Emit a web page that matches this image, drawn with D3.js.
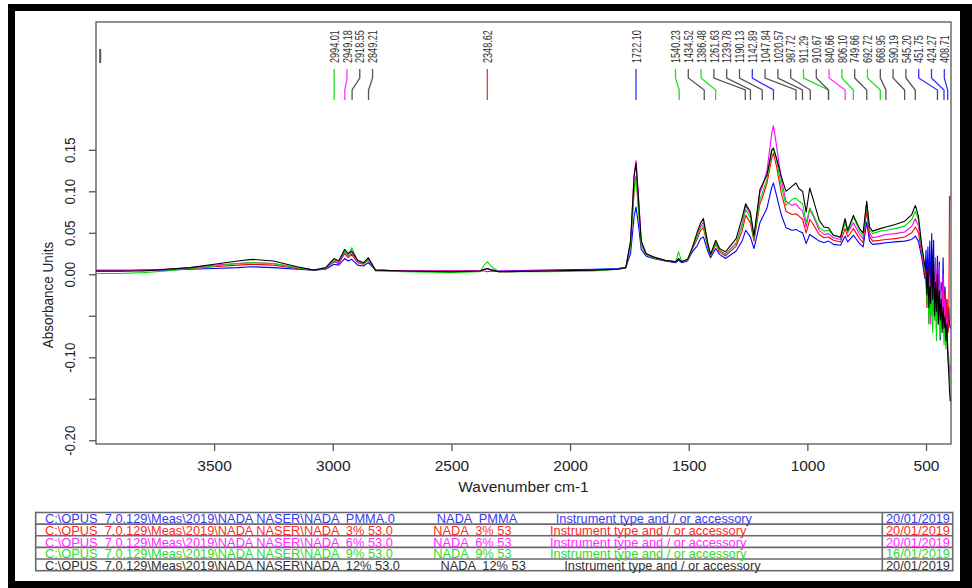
<!DOCTYPE html>
<html><head><meta charset="utf-8">
<script src="https://cdn.jsdelivr.net/npm/d3@7"></script>
<style>
body{margin:0;background:#fff}
svg{display:block}
text{font-family:"Liberation Sans",Arial,sans-serif}
</style>
</head><body>
<svg id="chart" width="972" height="588"></svg>
<script>
// ---------------- DATA ----------------
const wavenumbers = [
 3997,3900,3800,3700,3600,3500,3400,3340,3250,3150,3080,3030,2995,2975,2950,2935,2920,2895,2870,2850,
 2820,2700,2500,2380,2360,2348,2330,2300,2100,1900,1800,1765,1745,1730,1722,1712,1700,1680,1650,1600,
 1555,1543,1530,1505,1485,1465,1450,1438,1420,1408,1386,1370,1345,1300,1275,1260,1240,1225,1200,1190,
 1170,1150,1143,1130,1110,1090,1065,1048,1035,1020,1005,990,975,950,930,911,890,860,841,830,
 806,780,765,750,738,725,693,669,630,590,560,545,532,518,505,
 500,496,492,488,484,480,476,472,468,464,460,456,452,448,444,440,436,432,428,424,420,416,412,408,404,401,398
];
// NADA PMMA (blue)
const pmma0 = [
 .004,.004,.005,.005,.006,.007,.008,.009,.008,.006,.005,.006,.012,.011,.019,.016,.018,.011,.010,.014,
 .005,.004,.004,.004,.006,.007,.005,.004,.005,.006,.007,.008,.025,.070,.081,.060,.030,.022,.019,.016,
 .014,.017,.014,.016,.027,.034,.043,.045,.028,.020,.031,.024,.019,.028,.040,.053,.045,.031,.062,.068,
 .080,.105,.110,.095,.072,.056,.053,.054,.052,.050,.037,.048,.045,.040,.038,.040,.036,.035,.046,.039,
 .047,.037,.033,.063,.040,.036,.037,.038,.039,.040,.042,.046,.040,.020,-.005,
 .029,-.010,.033,-.019,.040,-.031,.049,-.020,.041,-.045,.010,-.060,.022,-.040,.015,-.079,-.010,-.059,.020,-.045,-.015,-.065,-.030,-.070,-.040,-.060,-.065
];
// NADA 3% (red)
const nada3 = [
 .004,.004,.005,.006,.007,.009,.011,.012,.011,.007,.005,.007,.015,.013,.025,.020,.024,.014,.012,.017,
 .005,.004,.004,.004,.004,.003,.004,.003,.004,.005,.006,.008,.035,.100,.118,.080,.036,.024,.020,.017,
 .015,.018,.015,.017,.030,.042,.053,.056,.033,.022,.036,.027,.022,.034,.052,.071,.062,.040,.085,.092,
 .110,.140,.146,.130,.098,.076,.072,.073,.070,.066,.050,.066,.060,.048,.044,.045,.041,.039,.055,.045,
 .055,.043,.038,.077,.046,.040,.041,.042,.043,.045,.050,.057,.050,.025,.000,
 -.010,-.040,.000,-.059,-.020,-.050,.005,-.045,-.010,-.055,-.005,-.040,.010,-.050,-.020,-.060,-.030,-.055,-.010,-.050,-.020,-.065,-.030,-.070,-.060,.094,.090
];
// NADA 6% (magenta)
const nada6 = [
 .005,.005,.005,.006,.008,.011,.013,.014,.013,.008,.005,.007,.016,.014,.027,.022,.026,.015,.013,.018,
 .005,.004,.004,.004,.006,.007,.005,.004,.004,.005,.006,.008,.040,.120,.137,.095,.040,.025,.021,.017,
 .015,.019,.015,.017,.031,.046,.058,.063,.036,.023,.038,.029,.024,.038,.060,.083,.072,.045,.098,.105,
 .125,.170,.179,.155,.115,.088,.083,.085,.080,.076,.057,.078,.070,.053,.048,.049,.044,.042,.066,.050,
 .062,.048,.043,.085,.050,.044,.046,.048,.049,.051,.058,.067,.058,.028,.005,
 .005,-.030,.010,-.045,-.005,-.060,.015,-.035,.000,-.050,.020,-.040,-.010,-.055,.010,-.045,-.020,-.060,.000,-.050,-.030,-.070,-.050,-.090,-.100,-.119,-.110
];
// NADA 9% (green)
const nada9 = [
 .001,.001,.002,.004,.007,.010,.013,.014,.013,.008,.005,.007,.017,.016,.028,.023,.032,.016,.013,.019,
 .004,.003,.002,.003,.012,.015,.009,.003,.003,.004,.006,.008,.035,.100,.116,.080,.036,.024,.020,.017,
 .015,.027,.016,.017,.030,.045,.056,.059,.035,.023,.038,.029,.024,.037,.058,.078,.068,.043,.090,.097,
 .115,.148,.152,.138,.107,.083,.090,.092,.088,.085,.062,.080,.072,.056,.052,.053,.047,.044,.062,.050,
 .069,.052,.047,.085,.054,.049,.052,.053,.055,.058,.066,.076,.066,.032,.008,
 .000,-.035,-.010,-.060,-.020,-.050,-.005,-.070,-.015,-.055,-.030,-.080,-.010,-.060,-.040,-.075,-.020,-.065,-.050,-.085,-.060,-.090,-.070,-.100,-.110,-.127,-.131
];
// NADA 12% (black)
const nada12 = [
 .004,.004,.004,.006,.008,.012,.016,.018,.016,.009,.005,.008,.019,.016,.030,.025,.028,.017,.014,.020,
 .005,.004,.003,.004,.006,.007,.005,.003,.004,.005,.006,.008,.040,.118,.134,.092,.040,.025,.021,.017,
 .015,.019,.015,.018,.032,.050,.062,.067,.038,.024,.041,.031,.027,.043,.068,.085,.075,.046,.102,.108,
 .120,.150,.152,.140,.118,.100,.106,.110,.103,.100,.075,.104,.090,.065,.057,.056,.047,.045,.067,.053,
 .071,.055,.050,.088,.057,.052,.055,.057,.060,.064,.072,.083,.070,.035,.010,
 .005,-.025,.010,-.040,-.015,-.035,.030,-.030,.015,-.050,-.010,-.045,.000,-.060,-.020,-.055,-.030,-.070,-.040,-.065,-.050,-.080,-.060,-.100,-.120,-.140,-.153
];
const seriesColors = ["#0000ff","#ff0000","#ff00ff","#00e000","#000000"];

const xTicks = [3500,3000,2500,2000,1500,1000,500];
const yTicks = [-0.20,-0.15,-0.10,-0.05,0.00,0.05,0.10,0.15];
const yTickLabels = ["-0.20","","-0.10","","0.00","0.05","0.10","0.15"];

const peakWavenumbers = [2994.01,2949.18,2918.55,2849.21,2348.62,1722.10,1540.23,1434.52,1386.48,1261.63,
 1239.78,1190.13,1142.89,1047.84,1020.57,987.72,911.29,910.67,840.66,806.10,749.66,692.72,668.95,590.19,
 545.20,451.75,424.27,408.71];
const peakLabels = ["2994.01","2949.18","2918.55","2849.21","2348.62","1722.10","1540.23","1434.52","1386.48","1261.63",
 "1239.78","1190.13","1142.89","1047.84","1020.57","987.72","911.29","910.67","840.66","806.10","749.66","692.72","668.95","590.19",
 "545.20","451.75","424.27","408.71"];
const peakColors = ["#22dd22","#ff33ff","#555","#555","#ff3333","#3333ff","#22dd22","#555","#22dd22","#555",
 "#555","#555","#3333ff","#555","#555","#555","#22dd22","#555","#ff33ff","#22dd22","#555","#22dd22","#555","#555",
 "#555","#3333ff","#3333ff","#3333ff"];
const markerWavenumber = 3980;

const filePaths = [
 "C:\\OPUS  7.0.129\\Meas\\2019\\NADA NASER\\NADA  PMMA.0",
 "C:\\OPUS  7.0.129\\Meas\\2019\\NADA NASER\\NADA  3% 53.0",
 "C:\\OPUS  7.0.129\\Meas\\2019\\NADA NASER\\NADA  6% 53.0",
 "C:\\OPUS  7.0.129\\Meas\\2019\\NADA NASER\\NADA  9% 53.0",
 "C:\\OPUS  7.0.129\\Meas\\2019\\NADA NASER\\NADA  12% 53.0"];
const sampleNames = [" NADA  PMMA","NADA  3% 53","NADA  6% 53","NADA  9% 53","  NADA  12% 53"];
const instruments = ["Instrument type and / or accessory","Instrument type and / or accessory",
 "Instrument type and / or accessory","Instrument type and / or accessory","Instrument type and / or accessory"];
const dates = ["20/01/2019","20/01/2019","20/01/2019","16/01/2019","20/01/2019"];
const tableColors = ["#3b3bf0","#ff2b2b","#ff2bff","#2bdd2b","#333333"];

// ---------------- DRAW ----------------
const svg = d3.select("#chart");
const W = 972, H = 588;
const m = {left:96, right:951, top:22, bottom:444};

// outer black frame
svg.append("rect").attr("x",8).attr("y",4).attr("width",W-8).attr("height",H-4).attr("fill","#000");
svg.append("rect").attr("x",15).attr("y",11).attr("width",960-15).attr("height",581-11).attr("fill","#fff");

const x = d3.scaleLinear().domain([3997.7,394.7]).range([m.left,m.right]);
const y = d3.scaleLinear().domain([-0.2045,0.304]).range([m.bottom,m.top]);

const axisColor = "#555";
// plot frame
svg.append("rect").attr("x",m.left).attr("y",m.top).attr("width",m.right-m.left).attr("height",m.bottom-m.top)
  .attr("fill","none").attr("stroke",axisColor).attr("stroke-width",1.3);

// X axis
const xAxis = d3.axisBottom(x).tickValues(xTicks).tickSize(7).tickPadding(6).tickFormat(d3.format("d"));
const gx = svg.append("g").attr("transform",`translate(0,${m.bottom})`).call(xAxis);
gx.select(".domain").remove();
gx.selectAll("line").attr("stroke",axisColor).attr("stroke-width",1.3);
gx.selectAll("text").attr("font-size",15.5).attr("fill","#222").attr("font-family","Liberation Sans, Arial, sans-serif")
  .attr("dy",null).attr("y",26.5);

// Y axis
const yAxis = d3.axisLeft(y).tickValues(yTicks).tickSize(7).tickFormat((d,i)=>yTickLabels[i]);
const gy = svg.append("g").attr("transform",`translate(${m.left},0)`).call(yAxis);
gy.select(".domain").remove();
gy.selectAll("line").attr("stroke",axisColor).attr("stroke-width",1.3);
gy.selectAll("text")
  .attr("x",null).attr("dy",null)
  .attr("text-anchor","middle").attr("font-size",15.5).attr("fill","#222")
  .attr("font-family","Liberation Sans, Arial, sans-serif")
  .attr("transform","translate(-21,0) rotate(-90) scale(0.85,1)");

// axis titles
svg.append("text").attr("x",(m.left+m.right)/2).attr("y",492).attr("text-anchor","middle")
  .attr("font-size",15.5).attr("fill","#222").text("Wavenumber cm-1");
svg.append("text").attr("text-anchor","middle").attr("font-size",15.5).attr("fill","#222")
  .attr("transform",`translate(53,${(y(0.15)+y(-0.2))/2}) rotate(-90) scale(0.87,1)`).text("Absorbance Units");

// spectra
const series = [pmma0,nada3,nada6,nada9,nada12];
const line = d3.line().x((d,i)=>x(wavenumbers[i])).y(d=>y(d));
series.forEach((s,k)=>{
  svg.append("path").datum(s).attr("d",line).attr("fill","none")
    .attr("stroke",seriesColors[k]).attr("stroke-width",1.1).attr("stroke-linejoin","round");
});

// peak labels
const labelGap = 12.8, labelRight = m.right - 6.7;
const tx = peakWavenumbers.map(w=>x(w));
const lx = tx.slice();
for(let i=1;i<lx.length;i++) lx[i] = Math.max(tx[i], lx[i-1]+labelGap);
for(let i=lx.length-1;i>=0;i--) lx[i] = Math.min(lx[i], i===lx.length-1 ? labelRight : lx[i+1]-labelGap);

const gp = svg.append("g");
peakWavenumbers.forEach((w,i)=>{
  gp.append("path")
    .attr("d",`M${lx[i]},69 L${lx[i]},78 L${tx[i]},90 L${tx[i]},100`)
    .attr("fill","none").attr("stroke",peakColors[i]).attr("stroke-width",1.3);
  gp.append("text").attr("font-size",13).attr("fill","#333")
    .attr("transform",`translate(${lx[i]+4.6},63) rotate(-90) scale(0.7,1)`).text(peakLabels[i]);
});
gp.append("line").attr("x1",x(markerWavenumber)).attr("x2",x(markerWavenumber)).attr("y1",49).attr("y2",63)
  .attr("stroke","#555").attr("stroke-width",2);

// legend table
const tTop = 512.5, rowH = 11.64, tLeft = 35.7, tRight = 952.7, tDiv = 882.3;
const gt = svg.append("g");
const nRows = filePaths.length;
gt.append("rect").attr("x",tLeft).attr("y",tTop).attr("width",tRight-tLeft).attr("height",rowH*nRows)
  .attr("fill","none").attr("stroke","#6a6a6a").attr("stroke-width",1.6);
for(let r=1;r<nRows;r++){
  gt.append("line").attr("x1",tLeft).attr("x2",tRight).attr("y1",tTop+r*rowH).attr("y2",tTop+r*rowH)
    .attr("stroke","#6a6a6a").attr("stroke-width",1.6);
}
gt.append("line").attr("x1",tDiv).attr("x2",tDiv).attr("y1",tTop).attr("y2",tTop+rowH*nRows)
  .attr("stroke","#6a6a6a").attr("stroke-width",1.6);
filePaths.forEach((p,r)=>{
  const by = tTop+(r+1)*rowH-0.9;
  const t = gt.append("text").attr("y",by).attr("font-size",12.8).attr("fill",tableColors[r])
    .style("white-space","pre");
  t.append("tspan").attr("x",45).text(p);
  t.append("tspan").attr("x",433.3).text(sampleNames[r]);
  t.append("tspan").attr("dx",38.5).text(instruments[r]);
  gt.append("text").attr("x",950).attr("y",by).attr("text-anchor","end").attr("font-size",12.8)
    .attr("fill",tableColors[r]).text(dates[r]);
});
</script>
</body></html>
